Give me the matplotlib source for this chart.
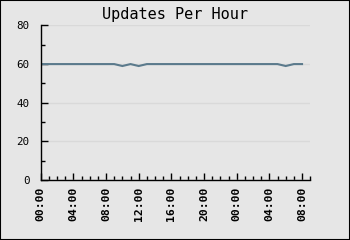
import matplotlib
matplotlib.use("Agg")
import matplotlib.pyplot as plt
from matplotlib.ticker import MultipleLocator

# hourly samples, 00:00 day one through 08:00 day two
hours = list(range(33))
updates = [60, 60, 60, 60, 60, 60, 60, 60, 60, 60,
           59, 60, 59, 60, 60, 60, 60, 60, 60, 60,
           60, 60, 60, 60, 60, 60, 60, 60, 60, 60,
           59, 60, 60]
tick_hours = [0, 4, 8, 12, 16, 20, 24, 28, 32]
tick_labels = ["00:00", "04:00", "08:00", "12:00", "16:00",
               "20:00", "00:00", "04:00", "08:00"]

bg = "#e6e6e6"
mono = "DejaVu Sans Mono"

fig = plt.figure(figsize=(3.5, 2.4), dpi=100, facecolor=bg)
fig.patches.append(plt.Rectangle((0, 0), 1, 1, transform=fig.transFigure,
                                 fill=False, edgecolor="black", linewidth=1.5))
ax = fig.add_axes([0.1163, 0.25, 0.77, 0.644])
ax.set_facecolor(bg)

ax.plot(hours, updates, color="#5b7a8c", linewidth=1.5, solid_joinstyle="miter")

ax.set_xlim(0, 33)
ax.set_ylim(0, 80)
ax.set_xticks(tick_hours)
ax.set_xticklabels(tick_labels, rotation=90, fontfamily=mono,
                   fontweight="bold", fontsize=8.2)
ax.xaxis.set_minor_locator(MultipleLocator(1))
ax.yaxis.set_major_locator(MultipleLocator(20))
ax.yaxis.set_minor_locator(MultipleLocator(10))
for lbl in ax.get_yticklabels():
    lbl.set_fontfamily(mono)
    lbl.set_fontsize(7.8)

ax.tick_params(which="major", direction="in", length=5, width=1, pad=5)
ax.tick_params(which="minor", direction="in", length=3, width=1)
ax.tick_params(axis="y", pad=8)

ax.grid(axis="y", color="#d9d9d9", linewidth=1)
ax.set_axisbelow(True)
for side in ("top", "right"):
    ax.spines[side].set_visible(False)
for side in ("left", "bottom"):
    ax.spines[side].set_linewidth(1)

fig.text(0.5, 0.94, "Updates Per Hour", ha="center", va="center",
         fontfamily=mono, fontsize=11)

fig.savefig("out.png", dpi=100, facecolor=bg)
